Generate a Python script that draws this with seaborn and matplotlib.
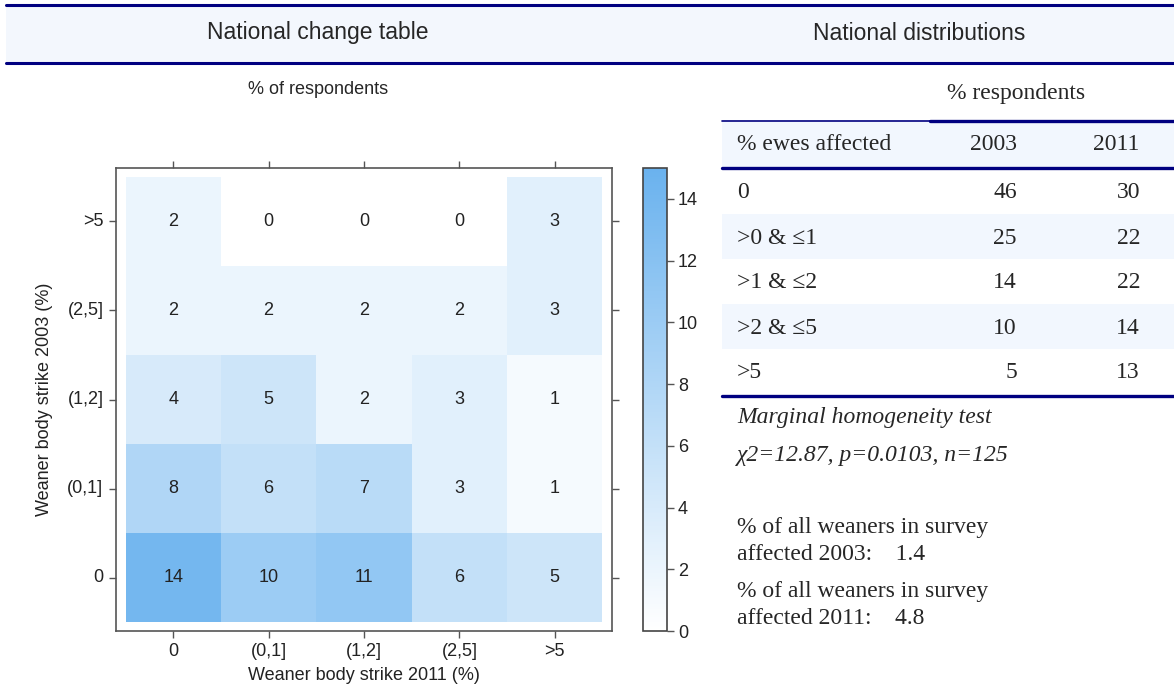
import matplotlib
matplotlib.use("Agg")
import matplotlib.pyplot as plt
from matplotlib.colors import LinearSegmentedColormap
from matplotlib.patches import Rectangle
import pandas as pd
import seaborn as sns

# change table: rows = 2003 strike level, columns = 2011 strike level (% of respondents)
strike_levels = ["0", "(0,1]", "(1,2]", "(2,5]", ">5"]
row_gt5 = [2, 0, 0, 0, 3]
row_2to5 = [2, 2, 2, 2, 3]
row_1to2 = [4, 5, 2, 3, 1]
row_0to1 = [8, 6, 7, 3, 1]
row_0 = [14, 10, 11, 6, 5]

# national distributions (% respondents)
ewes_bands = ["0", ">0 & \u22641", ">1 & \u22642", ">2 & \u22645", ">5"]
dist_2003 = [46, 25, 14, 10, 5]
dist_2011 = [30, 22, 22, 14, 13]
test_lines = ["Marginal homogeneity test", "\u03c72=12.87, p=0.0103, n=125"]
weaners_2003 = 1.4
weaners_2011 = 4.8

sns.set_style("white")
plt.rcParams["font.family"] = ["Liberation Sans", "DejaVu Sans"]

W, H = 1174, 697
NAVY = "#000080"
PALE = "#f2f7fe"
SERIF = ["Liberation Serif", "DejaVu Serif"]

fig = plt.figure(figsize=(W / 100, H / 100), dpi=100)
bg = fig.add_axes([0, 0, 1, 1], zorder=0)
bg.set_xlim(0, W)
bg.set_ylim(H, 0)
bg.axis("off")

# header band
bg.add_patch(Rectangle((6, 5), W - 6, 58, color="#f3f7fd", lw=0))
bg.plot([6, W], [5, 5], color=NAVY, lw=2.2)
bg.plot([6, W], [63, 63], color=NAVY, lw=2.2)
bg.text(318, 33, "National change table", ha="center", va="center", fontsize=16.5)
bg.text(919, 33, "National distributions", ha="center", va="center", fontsize=16.5)
bg.text(318, 90, "% of respondents", ha="center", va="center", fontsize=13)

# heatmap
change = pd.DataFrame([row_gt5, row_2to5, row_1to2, row_0to1, row_0],
                      index=strike_levels[::-1], columns=strike_levels)
ax = fig.add_axes([116 / W, 1 - 631 / H, 496 / W, 463 / H], zorder=2)
cax = fig.add_axes([643 / W, 1 - 631 / H, 24 / W, 463 / H], zorder=2)
cmap = LinearSegmentedColormap.from_list("wb", ["#ffffff", "#6ab2ee"])
sns.heatmap(change, ax=ax, cbar_ax=cax, cmap=cmap, vmin=0, vmax=15,
            annot=True, fmt="d", annot_kws=dict(size=13, color="#222222"))
ax.set_xlim(-0.1, 5.1)
ax.set_ylim(5.1, -0.1)
for sp in ax.spines.values():
    sp.set_visible(True)
    sp.set_color("#555555")
    sp.set_linewidth(1.2)
ax.tick_params(axis="both", which="both", top=True, right=True, bottom=True, left=True,
               labeltop=False, labelright=False, direction="out", length=5,
               width=1, color="#555555", labelsize=13, labelcolor="#222222", pad=4)
ax.set_yticklabels(change.index, rotation=0)
ax.set_xticklabels(change.columns, rotation=0)
ax.set_xlabel("Weaner body strike 2011 (%)", fontsize=13, color="#222222", labelpad=5)
ax.set_ylabel("Weaner body strike 2003 (%)", fontsize=13, color="#222222", labelpad=10)

cbar = ax.collections[0].colorbar
cbar.set_ticks(range(0, 15, 2))
cbar.outline.set_visible(True)
cbar.outline.set_edgecolor("#444444")
cbar.outline.set_linewidth(1.2)
cax.tick_params(direction="out", length=5, width=1, color="#555555",
                labelsize=13, labelcolor="#222222", pad=3)

# distribution table
tx0, tx1 = 722, W
bg.text(1016, 93, "% respondents", ha="center", va="center", fontsize=17, family=SERIF)
bg.plot([tx0, 930], [121, 121], color=NAVY, lw=1.2)
bg.plot([930, tx1], [121, 121], color=NAVY, lw=2.4)
bg.add_patch(Rectangle((tx0, 122), tx1 - tx0, 46, color=PALE, lw=0))
bg.text(737, 145, "% ewes affected", ha="left", va="center", fontsize=17, family=SERIF)
bg.text(1017, 145, "2003", ha="right", va="center", fontsize=17, family=SERIF)
bg.text(1139, 145, "2011", ha="right", va="center", fontsize=17, family=SERIF)
bg.plot([tx0, tx1], [168, 168], color=NAVY, lw=2.4)
for i, (band, a, b) in enumerate(zip(ewes_bands, dist_2003, dist_2011)):
    top = 169 + 45 * i
    if i % 2 == 1:
        bg.add_patch(Rectangle((tx0, top), tx1 - tx0, 45, color=PALE, lw=0))
    yc = top + 24
    bg.text(737, yc, band, ha="left", va="center", fontsize=17, family=SERIF)
    bg.text(1017, yc, str(a), ha="right", va="center", fontsize=17, family=SERIF)
    bg.text(1140, yc, str(b), ha="right", va="center", fontsize=17, family=SERIF)
bg.plot([tx0, tx1], [396, 396], color=NAVY, lw=2.4)

for j, line in enumerate(test_lines):
    bg.text(737, 418 + 37 * j, line, ha="left", va="center", fontsize=17,
            family=SERIF, style="italic")

bg.text(737, 527, "% of all weaners in survey", ha="left", va="center", fontsize=17, family=SERIF)
bg.text(737, 555, "affected 2003:    %.1f" % weaners_2003, ha="left", va="center",
        fontsize=17, family=SERIF)
bg.text(737, 592, "% of all weaners in survey", ha="left", va="center", fontsize=17, family=SERIF)
bg.text(737, 619, "affected 2011:    %.1f" % weaners_2011, ha="left", va="center",
        fontsize=17, family=SERIF)

fig.savefig("out.png", dpi=100)
